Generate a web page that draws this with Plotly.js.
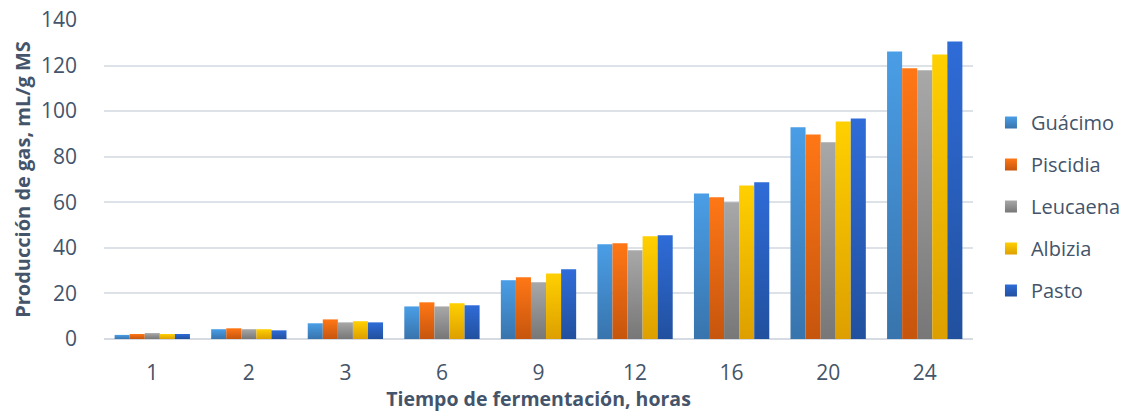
<!DOCTYPE html>
<html>
<head>
<meta charset="utf-8">
<script src="https://cdn.plot.ly/plotly-3.0.1.min.js"></script>
<style>html,body{margin:0;padding:0;background:#fff;}#chart{width:1121px;height:412px;}</style>
</head>
<body>
<div id="chart"></div>
<script>
const hours = ['1','2','3','6','9','12','16','20','24'];
const guacimo  = [1.8, 4.3, 6.9, 14.3, 25.8, 41.6, 63.9, 92.9, 126.2];
const piscidia = [2.2, 4.7, 8.6, 16.1, 27.1, 42.0, 62.2, 89.8, 118.8];
const leucaena = [2.6, 4.3, 7.3, 14.3, 24.9, 38.9, 60.0, 86.3, 117.9];
const albizia  = [2.2, 4.3, 7.8, 15.7, 28.8, 45.1, 67.4, 95.5, 124.9];
const pasto    = [2.2, 3.8, 7.3, 14.8, 30.6, 45.5, 68.8, 96.8, 130.6];
const seriesNames = ['Guácimo','Piscidia','Leucaena','Albizia','Pasto'];
const seriesValues = [guacimo, piscidia, leucaena, albizia, pasto];
const solid = ['#4290d6','#ea6810','#939393','#f2b900','#2b5fc4'];
const gradTop = ['#4a9ee6','#ff7716','#a8a8a8','#ffd000','#2f6cd8'];
const gradBot = ['#3874ad','#c6550d','#777777','#dd9f00','#21509e'];

const font = "'Open Sans', 'Noto Sans', sans-serif";
const txt = '#44546a';

const traces = seriesNames.map((n, i) => ({
  type: 'bar', name: n, x: hours, y: seriesValues[i],
  marker: {color: solid[i], line: {width: 0}},
  legendgroup: 'g' + i,
  hoverinfo: 'skip'
}));

const layout = {
  width: 1121, height: 412,
  margin: {l: 104, r: 148, t: 20, b: 73, autoexpand: false},
  paper_bgcolor: '#fff', plot_bgcolor: '#fff',
  barmode: 'group', bargap: 0.22, bargroupgap: 0,
  font: {family: font, color: txt, size: 21},
  xaxis: {
    type: 'category',
    showgrid: false, zeroline: false, showline: false,
    ticks: '', tickfont: {size: 21, color: txt},
    ticklabelstandoff: 19,
    automargin: false,
    title: {text: 'Tiempo de fermentación, horas', font: {size: 19.5, color: txt, family: font, weight: 'bold'}, standoff: 7}
  },
  yaxis: {
    range: [0, 140], dtick: 20, tick0: 0,
    showgrid: true, gridcolor: '#dde1e8', gridwidth: 2,
    zeroline: true, zerolinecolor: '#d6dae2', zerolinewidth: 2,
    showline: false, ticks: '',
    automargin: false,
    tickfont: {size: 21, color: txt},
    ticklabelstandoff: 26,
    title: {text: 'Producción de gas, mL/g MS', font: {size: 20, color: txt, family: font, weight: 'bold'}, standoff: 4}
  },
  showlegend: true,
  legend: {
    xref: 'container', yref: 'container',
    x: 0.884, xanchor: 'left', y: 0.5, yanchor: 'middle',
    font: {size: 20, color: txt}, tracegroupgap: 13,
    itemwidth: 30, traceorder: 'grouped', bgcolor: 'rgba(0,0,0,0)'
  }
};

Plotly.newPlot('chart', traces, layout, {displayModeBar: false, staticPlot: true}).then(() => {
  const svg = document.querySelector('#chart .main-svg');
  const ns = 'http://www.w3.org/2000/svg';
  let defs = svg.querySelector('defs');
  if (!defs) { defs = document.createElementNS(ns, 'defs'); svg.insertBefore(defs, svg.firstChild); }
  seriesNames.forEach((n, i) => {
    const lg = document.createElementNS(ns, 'linearGradient');
    lg.setAttribute('id', 'barGrad' + i);
    lg.setAttribute('x1', '0'); lg.setAttribute('y1', '0');
    lg.setAttribute('x2', '0'); lg.setAttribute('y2', '1');
    const s1 = document.createElementNS(ns, 'stop');
    s1.setAttribute('offset', '0'); s1.setAttribute('stop-color', gradTop[i]);
    const s2 = document.createElementNS(ns, 'stop');
    s2.setAttribute('offset', '1'); s2.setAttribute('stop-color', gradBot[i]);
    lg.appendChild(s1); lg.appendChild(s2); defs.appendChild(lg);
  });
  document.querySelectorAll('#chart g.trace.bars').forEach((g, i) => {
    g.querySelectorAll('path').forEach(p => { p.style.fill = 'url(#barGrad' + i + ')'; });
  });
  document.querySelectorAll('#chart g.legend g.traces').forEach((g, i) => {
    g.querySelectorAll('g.legendpoints path').forEach(p => { p.style.fill = 'url(#barGrad' + i + ')'; });
  });
});
</script>
</body>
</html>
